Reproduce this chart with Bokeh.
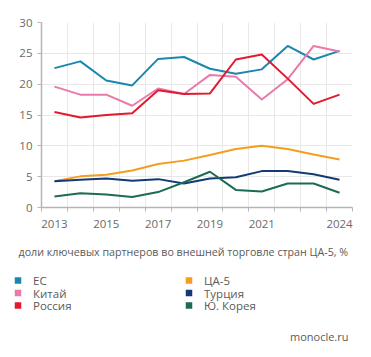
from bokeh.plotting import figure
from bokeh.layouts import column
from bokeh.models import ColumnDataSource, FixedTicker, Range1d
from bokeh.core.properties import value
from bokeh.embed import file_html
from bokeh.resources import INLINE

years = [2013, 2014, 2015, 2016, 2017, 2018, 2019, 2020, 2021, 2022, 2023, 2024]
eu     = [22.6, 23.7, 20.6, 19.8, 24.1, 24.4, 22.5, 21.7, 22.4, 26.2, 24.0, 25.4]
china  = [19.6, 18.3, 18.3, 16.5, 19.3, 18.4, 21.5, 21.2, 17.5, 20.8, 26.2, 25.3]
russia = [15.5, 14.6, 15.0, 15.3, 19.0, 18.4, 18.5, 24.0, 24.8, 20.9, 16.8, 18.3]
ca5    = [4.25, 5.05, 5.3, 6.0, 7.05, 7.6, 8.5, 9.5, 10.0, 9.5, 8.6, 7.8]
turkey = [4.25, 4.5, 4.7, 4.35, 4.6, 3.9, 4.7, 4.9, 5.9, 5.9, 5.4, 4.5]
korea  = [1.8, 2.3, 2.1, 1.7, 2.5, 4.1, 5.8, 2.85, 2.6, 3.9, 3.9, 2.4]

names = ["ЕС", "Китай", "Россия", "ЦА-5", "Турция", "Ю. Корея"]
series = [eu, china, russia, ca5, turkey, korea]
colors = ["#1a87b0", "#ea7aa9", "#e01b2f", "#f49d1f", "#133a76", "#1d6b53"]

x_tick_years = [2013, 2015, 2017, 2019, 2021, 2024]
y_ticks = [0, 5, 10, 15, 20, 25, 30]
caption = "доли ключевых партнеров во внешней торговле стран ЦА-5, %"
source_text = "monocle.ru"

FONT = "Open Sans"
TXT = "#5a5a5a"


def no_align(fig):
    if "frame_align" in fig.properties():
        fig.frame_align = False


p = figure(width=371, height=230, output_backend="svg", toolbar_location=None,
           x_range=Range1d(2012.5, 2024.5), y_range=Range1d(0, 30),
           min_border_left=41, min_border_right=19, min_border_top=22, min_border_bottom=22)
no_align(p)
p.outline_line_color = None
p.background_fill_color = "white"
p.border_fill_color = "white"

# grids at year boundaries / value ticks
half_years = [y - 0.5 for y in years] + [years[-1] + 0.5]
p.xgrid.ticker = FixedTicker(ticks=half_years)
p.ygrid.ticker = FixedTicker(ticks=y_ticks)
for g in (p.xgrid, p.ygrid):
    g.grid_line_color = "#e8e8e8"
    g.grid_line_width = 1

# axes
p.xaxis.ticker = FixedTicker(ticks=x_tick_years, minor_ticks=half_years)
p.yaxis.ticker = FixedTicker(ticks=y_ticks)
for ax in (p.xaxis, p.yaxis):
    ax.axis_line_color = "#b5b5b5"
    ax.axis_line_width = 1.5
    ax.major_tick_line_color = "#b5b5b5"
    ax.minor_tick_line_color = "#b5b5b5"
    ax.major_tick_in = 0
    ax.minor_tick_in = 0
    ax.major_label_text_font = FONT
    ax.major_label_text_font_size = "11.5px"
    ax.major_label_text_color = "#6a6a6a"
p.xaxis.major_tick_out = 0
p.xaxis.minor_tick_out = 4
p.xaxis.major_label_standoff = 8
p.yaxis.major_tick_out = 4
p.yaxis.minor_tick_out = 0
p.yaxis.major_label_standoff = 5

# data lines
for vals, c in zip(series, colors):
    src = ColumnDataSource(dict(x=years, y=vals))
    p.line("x", "y", source=src, line_color=c, line_width=2, line_join="round")

# lower panel: caption, legend, source (pixel-like coordinates, y downward)
q = figure(width=371, height=127, output_backend="svg", toolbar_location=None,
           x_range=Range1d(0, 371), y_range=Range1d(127, 0),
           min_border_left=0, min_border_right=0, min_border_top=0, min_border_bottom=0)
no_align(q)
q.axis.visible = False
q.grid.visible = False
q.outline_line_color = None
q.border_fill_color = "white"
q.background_fill_color = "white"

q.text(x=[18], y=[21], text=[caption], text_font=value(FONT), text_font_size="10.7px",
       text_color=TXT, text_baseline="middle", text_align="left")

# legend: two columns of three
lx = [17.5 + (i // 3) * 171 for i in range(len(names))]
ly = [50 + (i % 3) * 12.5 for i in range(len(names))]
leg = ColumnDataSource(dict(x=lx, y=ly, tx=[v + 15 for v in lx], name=names, color=colors))
q.scatter("x", "y", source=leg, marker="square", size=6.5, fill_color="color",
          line_color=None)
q.text("tx", "y", text="name", source=leg, text_font=value(FONT), text_font_size="11.5px",
       text_color=TXT, text_baseline="middle", text_align="left")

q.text(x=[348], y=[106], text=[source_text], text_font=value(FONT), text_font_size="11px",
       text_color=TXT, text_baseline="middle", text_align="right")

open("out.html", "w").write(file_html(column(p, q, spacing=0), INLINE))
